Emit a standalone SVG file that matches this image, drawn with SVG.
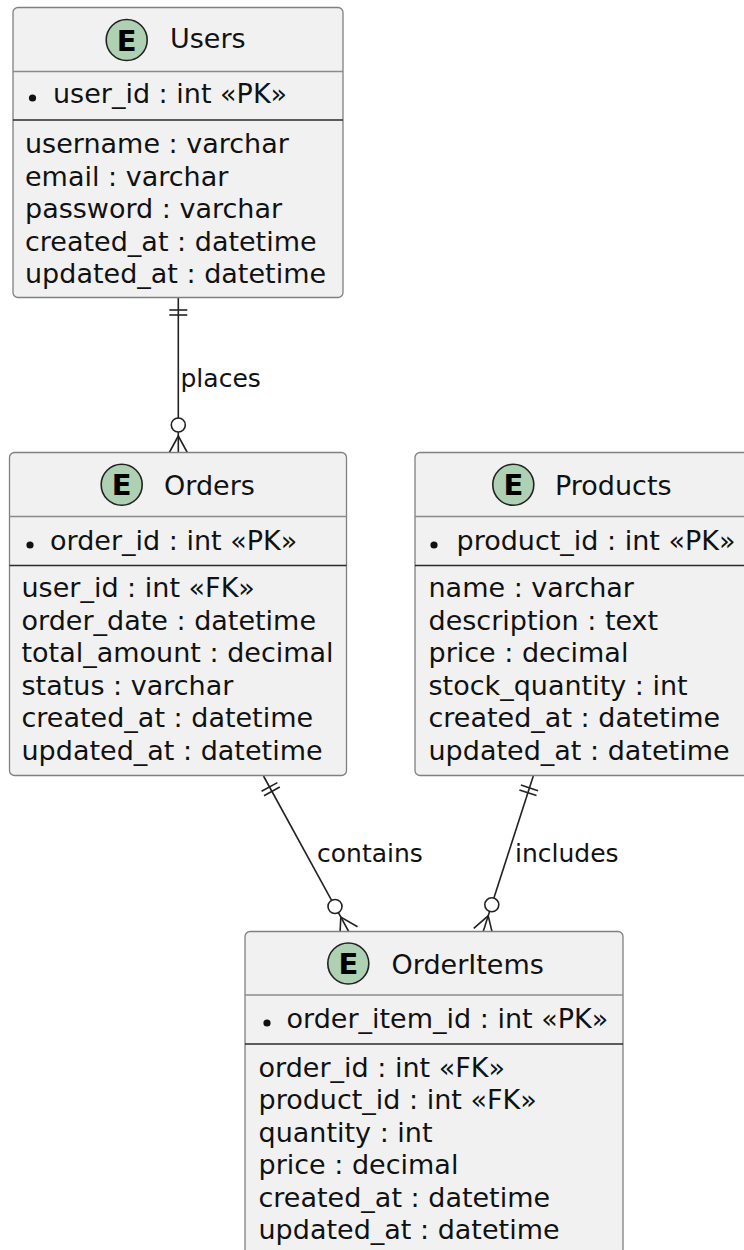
<svg xmlns="http://www.w3.org/2000/svg" width="744" height="1250" viewBox="0 0 744 1250">
<style>
.box{fill:#F1F1F1;stroke:#808080;stroke-width:1.3}
.hdr{stroke:#8a8a8a;stroke-width:1.3}
.sep{stroke:#2a2a2a;stroke-width:1.6}
.spot{fill:#ADD1B2;stroke:#222;stroke-width:1.6}
.E{font-family:"DejaVu Sans",sans-serif;font-weight:bold;font-size:29px;fill:#000;text-anchor:middle}
.t{font-family:"DejaVu Sans",sans-serif;font-size:27px;fill:#111}
.lbl{font-family:"DejaVu Sans",sans-serif;font-size:25px;fill:#111}
.bul{fill:#111}
.ln{stroke:#222;stroke-width:1.6;fill:none}
.cir{stroke:#222;stroke-width:1.6;fill:#fff}
</style>
<rect width="744" height="1250" fill="#fff"/>
<g id="connectors">
<g id="places">
<line class="ln" x1="178.3" y1="297.5" x2="178.3" y2="418"/>
<line class="ln" x1="169.3" y1="310" x2="187.3" y2="310"/>
<line class="ln" x1="169.3" y1="315" x2="187.3" y2="315"/>
<circle class="cir" cx="178.3" cy="425" r="7"/>
<line class="ln" x1="178.3" y1="432" x2="178.3" y2="452.5"/>
<polyline class="ln" points="169.3,452.5 178.3,436 187.3,452.5"/>
<text class="lbl" x="180.5" y="386.5">places</text>
</g>
<g id="contains">
<line class="ln" x1="263.5" y1="776" x2="331.6" y2="900.4"/>
<line class="ln" x1="261.6" y1="791.3" x2="277.4" y2="782.6"/>
<line class="ln" x1="264.0" y1="795.7" x2="279.8" y2="787.0"/>
<circle class="cir" cx="335" cy="906.5" r="7"/>
<line class="ln" x1="338.4" y1="912.6" x2="348.7" y2="931.5"/>
<polyline class="ln" points="339.9,936.3 340.8,917.0 357.5,926.7"/>
<text class="lbl" x="317" y="861.5">contains</text>
</g>
<g id="includes">
<line class="ln" x1="533.3" y1="776" x2="493.9" y2="898.1"/>
<line class="ln" x1="520.9" y1="785.1" x2="538.0" y2="790.7"/>
<line class="ln" x1="519.4" y1="789.9" x2="536.5" y2="795.4"/>
<circle class="cir" cx="491.8" cy="904.8" r="7"/>
<line class="ln" x1="489.6" y1="911.5" x2="483.2" y2="931.5"/>
<polyline class="ln" points="473.7,928.4 488.2,915.8 492.7,934.6"/>
<text class="lbl" x="515" y="861.5">includes</text>
</g>
</g>
<g id="Users">
<rect class="box" x="13" y="7.5" width="330" height="290" rx="5"/>
<line class="hdr" x1="13" y1="71.5" x2="343" y2="71.5"/>
<line class="sep" x1="13" y1="120" x2="343" y2="120"/>
<circle class="spot" cx="126.7" cy="40" r="20.5"/>
<text class="E" x="126.7" y="50.5">E</text>
<text class="t" x="170" y="48">Users</text>
<circle class="bul" cx="32.5" cy="98" r="3.6"/>
<text class="t" x="53" y="103.3">user_id : int «PK»</text>
<text class="t" x="25" y="153">username : varchar</text>
<text class="t" x="25" y="185.5">email : varchar</text>
<text class="t" x="25" y="218">password : varchar</text>
<text class="t" x="25" y="250.5">created_at : datetime</text>
<text class="t" x="25" y="283">updated_at : datetime</text>
</g>
<g id="Orders">
<rect class="box" x="9.5" y="452.5" width="337" height="323" rx="5"/>
<line class="hdr" x1="9.5" y1="516.5" x2="346.5" y2="516.5"/>
<line class="sep" x1="9.5" y1="565.5" x2="346.5" y2="565.5"/>
<circle class="spot" cx="121.7" cy="484.7" r="20.5"/>
<text class="E" x="121.7" y="495.2">E</text>
<text class="t" x="164" y="495">Orders</text>
<circle class="bul" cx="30" cy="545" r="3.6"/>
<text class="t" x="50" y="550">order_id : int «PK»</text>
<text class="t" x="21.5" y="597">user_id : int «FK»</text>
<text class="t" x="21.5" y="629.5">order_date : datetime</text>
<text class="t" x="21.5" y="662">total_amount : decimal</text>
<text class="t" x="21.5" y="694.5">status : varchar</text>
<text class="t" x="21.5" y="727">created_at : datetime</text>
<text class="t" x="21.5" y="759.5">updated_at : datetime</text>
</g>
<g id="Products">
<rect class="box" x="415" y="452.5" width="337" height="323" rx="5"/>
<line class="hdr" x1="415" y1="516.5" x2="752" y2="516.5"/>
<line class="sep" x1="415" y1="565.5" x2="752" y2="565.5"/>
<circle class="spot" cx="513.3" cy="484.7" r="20.5"/>
<text class="E" x="513.3" y="495.2">E</text>
<text class="t" x="555" y="495">Products</text>
<circle class="bul" cx="434" cy="545" r="3.6"/>
<text class="t" x="456.5" y="550">product_id : int «PK»</text>
<text class="t" x="428.5" y="597">name : varchar</text>
<text class="t" x="428.5" y="629.5">description : text</text>
<text class="t" x="428.5" y="662">price : decimal</text>
<text class="t" x="428.5" y="694.5">stock_quantity : int</text>
<text class="t" x="428.5" y="727">created_at : datetime</text>
<text class="t" x="428.5" y="759.5">updated_at : datetime</text>
</g>
<g id="OrderItems">
<rect class="box" x="245" y="931.5" width="378" height="323" rx="5"/>
<line class="hdr" x1="245" y1="995" x2="623" y2="995"/>
<line class="sep" x1="245" y1="1044" x2="623" y2="1044"/>
<circle class="spot" cx="348.3" cy="963.5" r="20.5"/>
<text class="E" x="348.3" y="974">E</text>
<text class="t" x="391.5" y="974">OrderItems</text>
<circle class="bul" cx="267" cy="1023" r="3.6"/>
<text class="t" x="286.5" y="1028">order_item_id : int «PK»</text>
<text class="t" x="258.5" y="1076.5">order_id : int «FK»</text>
<text class="t" x="258.5" y="1109">product_id : int «FK»</text>
<text class="t" x="258.5" y="1141.5">quantity : int</text>
<text class="t" x="258.5" y="1174">price : decimal</text>
<text class="t" x="258.5" y="1206.5">created_at : datetime</text>
<text class="t" x="258.5" y="1239">updated_at : datetime</text>
</g>
</svg>
